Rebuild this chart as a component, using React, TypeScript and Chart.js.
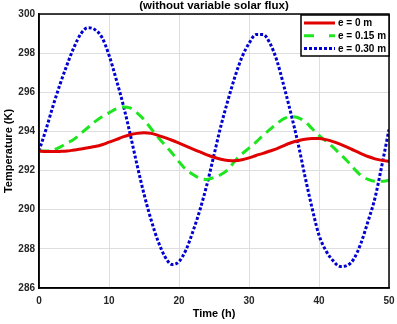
import React, { useEffect, useRef } from "react";
import { Chart, registerables } from "chart.js";

Chart.register(...registerables);

const hours = [0,1,2,3,4,5,6,7,8,9,10,11,12,13,14,15,16,17,18,19,20,21,22,23,24,25,26,27,28,29,30,31,32,33,34,35,36,37,38,39,40,41,42,43,44,45,46,47,48,49,50];

const tempE0 = [293.0,292.98,292.97,292.98,293.0,293.05,293.1,293.17,293.23,293.32,293.45,293.58,293.72,293.83,293.9,293.93,293.9,293.8,293.68,293.55,293.4,293.25,293.1,292.95,292.8,292.68,292.58,292.52,292.5,292.55,292.65,292.77,292.88,293.0,293.12,293.28,293.42,293.52,293.6,293.64,293.64,293.58,293.48,293.35,293.2,293.03,292.87,292.72,292.6,292.52,292.47];

const tempE015 = [293.0,293.0,293.05,293.2,293.4,293.6,293.9,294.2,294.5,294.75,294.95,295.15,295.25,295.2,294.95,294.6,294.15,293.7,293.3,292.9,292.45,292.05,291.8,291.6,291.55,291.65,291.8,292.05,292.5,292.85,293.15,293.45,293.8,294.1,294.4,294.65,294.75,294.7,294.5,294.15,293.8,293.5,293.2,292.85,292.5,292.1,291.75,291.55,291.45,291.45,291.5];

const tempE030 = [293.0,294.1,295.3,296.4,297.4,298.3,299.0,299.3,299.2,298.8,297.9,296.7,295.4,293.9,292.3,290.8,289.5,288.4,287.6,287.2,287.35,287.95,288.9,290.0,291.3,292.8,294.3,295.6,296.8,297.8,298.5,298.95,298.95,298.5,297.6,296.3,294.9,293.4,291.7,290.1,288.7,287.9,287.4,287.1,287.15,287.5,288.3,289.4,290.6,292.3,294.1];

const seriesLabels = ["e = 0 m", "e = 0.15 m", "e = 0.30 m"];
const seriesColors = ["#e00000", "#1ee61e", "#0000d0"];
const titleText = "(without variable solar flux)";
const xTitle = "Time (h)";
const yTitle = "Temperature (K)";

const FONT = "'Liberation Sans', Arial, Helvetica, sans-serif";

const overlayPlugin = {
  id: "overlay",
  afterDatasetsDraw(chart: any) {
    const ctx = chart.ctx;
    const a = chart.chartArea;
    ctx.save();
    ctx.strokeStyle = "#000";
    ctx.lineWidth = 1.5;
    ctx.strokeRect(a.left, a.top, a.right - a.left, a.bottom - a.top);
    ctx.fillStyle = "#000";
    ctx.font = `bold 11.5px ${FONT}`;
    ctx.textAlign = "center";
    ctx.textBaseline = "middle";
    ctx.fillText(titleText, (a.left + a.right) / 2, 6);
    const lx = a.right - 88;
    const ly = a.top + 1;
    const lw = 88;
    const lh = 41;
    ctx.fillStyle = "#fff";
    ctx.fillRect(lx, ly, lw, lh);
    ctx.strokeStyle = "#000";
    ctx.lineWidth = 1.5;
    ctx.strokeRect(lx, ly, lw, lh);
    const dashes = [[], [10, 15], [3, 2]];
    for (let i = 0; i < 3; i++) {
      const y = ly + 8 + i * 12.7;
      ctx.beginPath();
      ctx.setLineDash(dashes[i]);
      ctx.strokeStyle = seriesColors[i];
      ctx.lineWidth = 3;
      ctx.lineCap = "butt";
      ctx.moveTo(lx + 3, y);
      ctx.lineTo(lx + 34, y);
      ctx.stroke();
      ctx.setLineDash([]);
      ctx.fillStyle = "#000";
      ctx.font = `bold 10px ${FONT}`;
      ctx.textAlign = "left";
      ctx.textBaseline = "middle";
      ctx.fillText(seriesLabels[i], lx + 37, y + 0.5);
    }
    ctx.restore();
  },
};

export default function App() {
  const ref = useRef<HTMLCanvasElement>(null);
  useEffect(() => {
    document.body.style.margin = "0";
    const values = [tempE0, tempE015, tempE030];
    const dashes = [[], [10, 6], [3, 2]];
    const chart = new Chart(ref.current as HTMLCanvasElement, {
      type: "line",
      data: {
        datasets: values.map((v, i) => ({
          label: seriesLabels[i],
          data: hours.map((h, j) => ({ x: h, y: v[j] })),
          borderColor: seriesColors[i],
          borderWidth: 3,
          borderDash: dashes[i],
          pointRadius: 0,
          cubicInterpolationMode: "monotone" as const,
          fill: false,
        })),
      },
      options: {
        animation: false,
        responsive: false,
        maintainAspectRatio: false,
        layout: { padding: { top: 14, right: 8, left: 0, bottom: 0 } },
        plugins: {
          legend: { display: false },
          title: { display: false },
          tooltip: { enabled: false },
        },
        scales: {
          x: {
            type: "linear",
            min: 0,
            max: 50,
            ticks: {
              stepSize: 10,
              color: "#262626",
              font: { family: FONT, size: 10, weight: "bold" },
              padding: 7,
              maxRotation: 0,
            },
            grid: { color: "#dedede", lineWidth: 1, drawTicks: false },
            border: { display: true, color: "#000", width: 1.5 },
            title: {
              display: true,
              text: xTitle,
              color: "#000",
              font: { family: FONT, size: 11, weight: "bold" },
              padding: { top: 0, bottom: 3 },
            },
            afterFit(scale: any) {
              scale.height = 36;
              scale.paddingLeft = 0;
              scale.paddingRight = 0;
            },
          },
          y: {
            type: "linear",
            min: 286,
            max: 300,
            ticks: {
              stepSize: 2,
              color: "#262626",
              font: { family: FONT, size: 10, weight: "bold" },
              padding: 4,
            },
            grid: { color: "#dedede", lineWidth: 1, drawTicks: false },
            border: { display: true, color: "#000", width: 1.5 },
            title: {
              display: true,
              text: yTitle,
              color: "#000",
              font: { family: FONT, size: 11, weight: "bold" },
              padding: { top: 2, bottom: 0 },
            },
            afterFit(scale: any) {
              scale.width = 39;
              scale.paddingTop = 0;
              scale.paddingBottom = 0;
            },
          },
        },
      },
      plugins: [overlayPlugin],
    });
    return () => chart.destroy();
  }, []);
  return (
    <div style={{ width: 397, height: 324, position: "relative", background: "#fff" }}>
      <canvas ref={ref} width={397} height={324} style={{ display: "block" }} />
    </div>
  );
}
